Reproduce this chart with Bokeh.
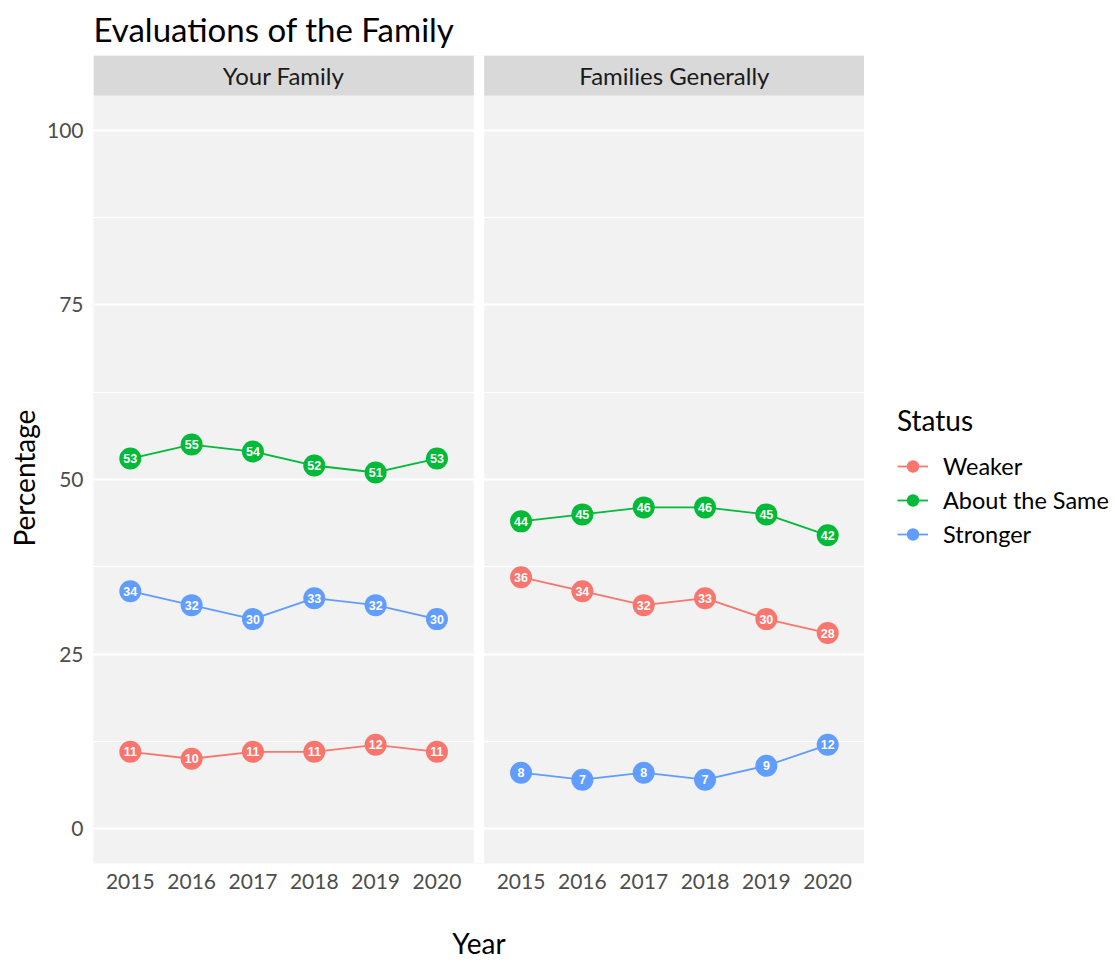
from bokeh.plotting import figure
from bokeh.layouts import row
from bokeh.models import (FactorRange, Range1d, FixedTicker, Legend, LegendItem,
                          ColumnDataSource, Title)
from bokeh.core.properties import value
from bokeh.embed import file_html
from bokeh.resources import INLINE

# ---------------- data ----------------
years = ["2015", "2016", "2017", "2018", "2019", "2020"]
facets = ["Your Family", "Families Generally"]
statuses = ["Weaker", "About the Same", "Stronger"]
colors = ["#F8766D", "#00BA38", "#619CFF"]

your_weaker = [11, 10, 11, 11, 12, 11]
your_same = [53, 55, 54, 52, 51, 53]
your_stronger = [34, 32, 30, 33, 32, 30]
gen_weaker = [36, 34, 32, 33, 30, 28]
gen_same = [44, 45, 46, 46, 45, 42]
gen_stronger = [8, 7, 8, 7, 9, 12]

y_ticks = [0, 25, 50, 75, 100]
y_minor = [12.5, 37.5, 62.5, 87.5]

series = {
    "Your Family": [your_weaker, your_same, your_stronger],
    "Families Generally": [gen_weaker, gen_same, gen_stronger],
}

FONT = "Lato"
H = 962

factors = [(f, y) for f in facets for y in years]
x_range = FactorRange(factors=factors, range_padding=0.1,
                      range_padding_units="absolute", group_padding=0.371)
y_range = Range1d(-5, 110.72)

p = figure(width=864, height=H, x_range=x_range, y_range=y_range,
           output_backend="svg", toolbar_location=None,
           min_border_left=93, min_border_right=0,
           min_border_top=55, min_border_bottom=H - 863)
p.background_fill_color = "#F2F2F2"
p.border_fill_color = "white"
p.outline_line_color = None

# title
p.title.text = "Evaluations of the Family"
p.title.text_font = FONT
p.title.text_font_size = "33px"
p.title.text_font_style = "normal"
p.title.text_color = "black"
p.title.align = "left"
p.title.standoff = 13

# grids
p.xgrid.grid_line_color = None
p.ygrid.grid_line_color = "white"
p.ygrid.grid_line_width = 2
p.ygrid.minor_grid_line_color = "white"
p.ygrid.minor_grid_line_width = 1

# y axis (its title is a side Title so it can be centred on the panel body)
p.yaxis.ticker = FixedTicker(ticks=y_ticks, minor_ticks=y_minor)
p.yaxis.major_label_text_font = FONT
p.yaxis.major_label_text_font_size = "21px"
p.yaxis.major_label_text_color = "#4D4D4D"
p.yaxis.major_label_standoff = 10
p.yaxis.axis_line_color = None
p.yaxis.major_tick_line_color = None
p.yaxis.minor_tick_line_color = None
p.yaxis.major_tick_out = 0
p.yaxis.major_tick_in = 0
p.yaxis.minor_tick_out = 0
p.yaxis.minor_tick_in = 0

ytitle = Title(text="Percentage", align="left", offset=317, standoff=5,
               text_font=FONT, text_font_size="28px", text_font_style="normal",
               text_color="black")
p.add_layout(ytitle, "left")

# x axis
p.xaxis.axis_label = "Year"
p.xaxis.axis_label_text_font = FONT
p.xaxis.axis_label_text_font_size = "28px"
p.xaxis.axis_label_text_font_style = "normal"
p.xaxis.axis_label_text_color = "black"
p.xaxis.axis_label_standoff = 34
p.xaxis.major_label_text_font = FONT
p.xaxis.major_label_text_font_size = "21px"
p.xaxis.major_label_text_color = "#4D4D4D"
p.xaxis.major_label_standoff = 10
p.xaxis.group_text_font_size = "0px"
p.xaxis.group_text_color = None
p.xaxis.separator_line_color = None
p.xaxis.axis_line_color = None
p.xaxis.major_tick_line_color = None
p.xaxis.minor_tick_line_color = None
p.xaxis.major_tick_out = 0
p.xaxis.major_tick_in = 0
p.xaxis.minor_tick_out = 0
p.xaxis.minor_tick_in = 0

# white gap between facet panels
p.quad(left=[(facets[0], years[-1], 0.6)], right=[(facets[1], years[0], -0.6)],
       bottom=[-5], top=[110.72], fill_color="white", line_color=None)

# facet strips
strip_src = ColumnDataSource(dict(
    left=[(f, years[0], -0.6) for f in facets],
    right=[(f, years[-1], 0.6) for f in facets],
    mid=[(f, years[2], 0.5) for f in facets],
    label=facets,
))
p.quad(left="left", right="right", bottom=105, top=110.72, source=strip_src,
       fill_color="#D9D9D9", line_color=None)
p.text(x="mid", y=107.86, text="label", source=strip_src,
       text_font=value(FONT), text_font_size="24px", text_color="#1A1A1A",
       text_align="center", text_baseline="middle")

# legend-only figure on the right
pl = figure(width=1112 - 864, height=H, x_range=FactorRange(factors=factors),
            y_range=Range1d(0, 1), output_backend="svg", toolbar_location=None,
            x_axis_location=None, y_axis_location=None,
            min_border_left=0, min_border_right=0, min_border_top=0, min_border_bottom=0)
pl.grid.visible = False
pl.outline_line_color = None
pl.background_fill_color = "white"
pl.border_fill_color = "white"

# series
legend_renderers = {}
for f in facets:
    for s, c, vals in zip(statuses, colors, series[f]):
        src = ColumnDataSource(dict(
            x=[(f, y) for y in years], y=vals, lab=[str(v) for v in vals]))
        p.line("x", "y", source=src, line_color=c, line_width=1.8)
        p.scatter("x", "y", source=src, size=22, fill_color=c, line_color=None)
        p.text("x", "y", text="lab", source=src, text_color="white",
               text_font=value("Liberation Sans"), text_font_style="bold",
               text_font_size="12.5px", text_align="center", text_baseline="middle")
        if f == facets[0]:
            lr = pl.line("x", "y", source=src, line_color=c, line_width=1.8, visible=False)
            sr = pl.scatter("x", "y", source=src, size=22, fill_color=c,
                            line_color=None, visible=False)
            legend_renderers[s] = [lr, sr]

legend = Legend(items=[LegendItem(label=s, renderers=legend_renderers[s]) for s in statuses],
                title="Status", location=(33, 312))
legend.title_text_font = FONT
legend.title_text_font_size = "28px"
legend.title_text_font_style = "normal"
legend.title_text_color = "black"
legend.title_standoff = 12
legend.label_text_font = FONT
legend.label_text_font_size = "23.5px"
legend.label_text_color = "black"
legend.glyph_width = 31
legend.glyph_height = 34
legend.spacing = 0
legend.label_standoff = 15
legend.padding = 0
legend.margin = 0
legend.border_line_color = None
legend.background_fill_alpha = 0
legend.click_policy = "none"
pl.add_layout(legend, "center")

open("out.html", "w").write(file_html(row(p, pl), INLINE))
